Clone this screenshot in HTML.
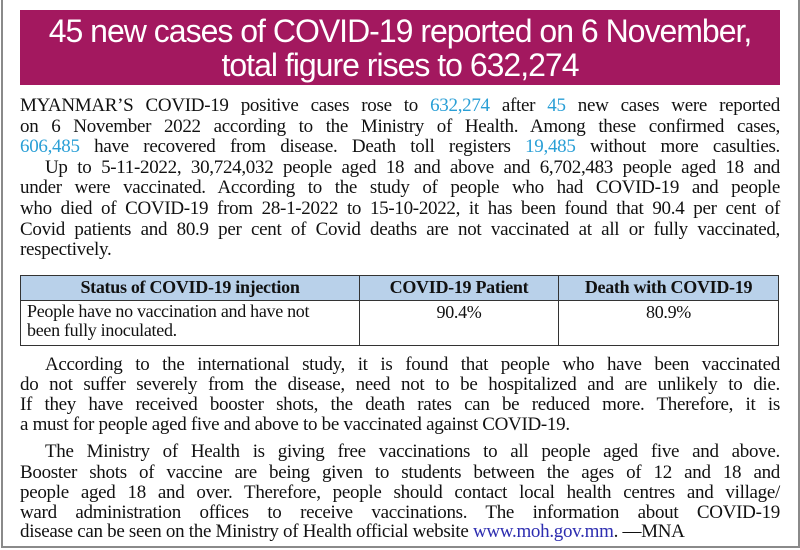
<!DOCTYPE html>
<html><head><meta charset="utf-8"><style>
html,body{margin:0;padding:0;}
body{width:800px;height:550px;position:relative;background:#fff;overflow:hidden;font-family:"Liberation Serif",serif;color:#111;}
.frame{position:absolute;left:1px;top:0;width:795px;height:546px;border:2px solid #8a8a8a;border-top:none;}
.title{position:absolute;left:20px;top:10px;width:760px;height:75px;background:#a3185f;color:#fff;font-family:"Liberation Sans",sans-serif;font-size:32px;text-align:center;line-height:34px;letter-spacing:-1px;padding-top:4px;box-sizing:border-box;white-space:nowrap;}
.l{position:absolute;left:20px;width:760px;font-size:19px;letter-spacing:-0.3px;line-height:18px;text-align:justify;text-align-last:justify;white-space:nowrap;}
.l.s{text-align-last:left;}
.i{left:45px;width:735px;}
.b{color:#2a9fd6;}
.u{color:#2d2db0;}
table{position:absolute;left:20px;top:275px;width:759px;border-collapse:collapse;font-size:18px;letter-spacing:-0.3px;}
td,th{border:1.5px solid #333;padding:1px 6px;vertical-align:top;}
th{background:#b9d1ea;height:22px;font-weight:bold;}
</style></head><body>
<div class="frame"></div>
<div class="title">45 new cases of COVID-19 reported on 6 November,<br>total figure rises to 632,274</div>
<div class="l" style="top:97px">MYANMAR’S COVID-19 positive cases rose to <span class="b">632,274</span> after <span class="b">45</span> new cases were reported</div>
<div class="l" style="top:118px">on 6 November 2022 according to the Ministry of Health. Among these confirmed cases,</div>
<div class="l" style="top:138px"><span class="b">606,485</span> have recovered from disease. Death toll registers <span class="b">19,485</span> without more casulties.</div>
<div class="l i" style="top:159px">Up to 5-11-2022, 30,724,032 people aged 18 and above and 6,702,483 people aged 18 and</div>
<div class="l" style="top:179px">under were vaccinated. According to the study of people who had COVID-19 and people</div>
<div class="l" style="top:200px">who died of COVID-19 from 28-1-2022 to 15-10-2022, it has been found that 90.4 per cent of</div>
<div class="l" style="top:221px">Covid patients and 80.9 per cent of Covid deaths are not vaccinated at all or fully vaccinated,</div>
<div class="l s" style="top:241px">respectively.</div>
<table>
<tr><th style="width:326px">Status of COVID-19 injection</th><th style="width:186px">COVID-19 Patient</th><th>Death with COVID-19</th></tr>
<tr><td style="height:42px;line-height:19px">People have no vaccination and have not<br>been fully inoculated.</td><td style="text-align:center">90.4%</td><td style="text-align:center">80.9%</td></tr>
</table>
<div class="l i" style="top:356px">According to the international study, it is found that people who have been vaccinated</div>
<div class="l" style="top:376px">do not suffer severely from the disease, need not to be hospitalized and are unlikely to die.</div>
<div class="l" style="top:396px">If they have received booster shots, the death rates can be reduced more. Therefore, it is</div>
<div class="l s" style="top:416px">a must for people aged five and above to be vaccinated against COVID-19.</div>
<div class="l i" style="top:443px">The Ministry of Health is giving free vaccinations to all people aged five and above.</div>
<div class="l" style="top:464px">Booster shots of vaccine are being given to students between the ages of 12 and 18 and</div>
<div class="l" style="top:484px">people aged 18 and over. Therefore, people should contact local health centres and village/</div>
<div class="l" style="top:504px">ward administration offices to receive vaccinations. The information about COVID-19</div>
<div class="l s" style="top:523px;width:760px">disease can be seen on the Ministry of Health official website <span class="u">www.moh.gov.mm</span>. —MNA</div>
</body></html>
